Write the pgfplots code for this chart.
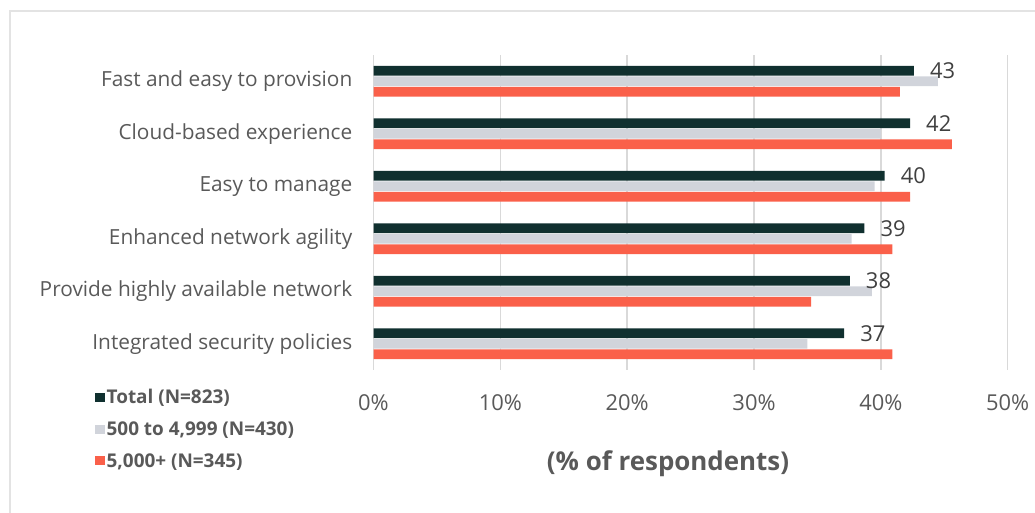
\documentclass[border=0pt]{standalone}
\usepackage{pgfplots}
\pgfplotsset{compat=1.18}
\usepackage{pgfplotstable}
\usepackage{fontspec}
\setmainfont{Open Sans}
\definecolor{cTotal}{HTML}{10302F}
\definecolor{cMid}{HTML}{D1D4DB}
\definecolor{cLarge}{HTML}{FA604A}
\definecolor{cText}{HTML}{595959}
\definecolor{cVal}{HTML}{404040}
\definecolor{cGrid}{HTML}{D9D9D9}
\definecolor{cFrame}{HTML}{E3E3E3}
\pgfplotstableread{
y total mid large label
0 42.6 44.5 41.5 43
1 42.3 40.0 45.6 42
2 40.3 39.5 42.3 40
3 38.7 37.7 40.9 39
4 37.55 39.3 34.5 38
5 37.1 34.2 40.9 37
}\datatable
\begin{document}
\begin{tikzpicture}
\useasboundingbox (0,0) rectangle (1035bp,513bp);
\draw[cFrame, line width=2bp] (10bp,-5bp) -- (10bp,502bp) -- (1045bp,502bp);
\begin{axis}[
  at={(373.5bp,143bp)}, anchor=south west,
  scale only axis, width=634.2bp, height=315bp,
  xbar, bar width=0.19,
  xmin=0, xmax=50, ymin=-0.5, ymax=5.5, y dir=reverse,
  axis line style={draw=none}, tick style={draw=none},
  major tick length=0pt,
  xtick={0,10,20,30,40,50},
  xticklabels={0\%,10\%,20\%,30\%,40\%,50\%},
  xticklabel style={font=\fontsize{22}{26}\selectfont, text=cText, inner sep=0pt, anchor=north, yshift=-24bp},
  xmajorgrids, grid style={cGrid, line width=1.5bp},
  ytick={0,1,2,3,4,5},
  yticklabels={Fast and easy to provision, Cloud-based experience, Easy to manage, Enhanced network agility, Provide highly available network, Integrated security policies},
  yticklabel style={font=\fontsize{20.9}{25}\selectfont, text=cText, inner sep=0pt, anchor=east, xshift=-21bp},
  xlabel={(\% of respondents)},
  xlabel style={font=\bfseries\fontsize{26}{30}\selectfont, text=cText, at={(axis description cs:0.4644,-0.298)}, anchor=center},
  legend style={at={(axis description cs:-0.4392,-0.054)}, anchor=north west, draw=none, fill=none,
    font=\bfseries\fontsize{19}{22}\selectfont, text=cText, inner sep=0pt, row sep=12.5bp,
    nodes={inner sep=2bp}},
  legend cell align=left,
  legend image code/.code={\fill[#1] (0bp,-4.5bp) rectangle (9.5bp,4.5bp);},
  every node near coord/.append style={anchor=west, inner sep=0pt, xshift=16bp, font=\fontsize{22}{26}\selectfont, text=cVal},
]
\addplot[fill=cTotal, draw=none, bar shift=-0.2, nodes near coords, point meta=explicit symbolic]
  table[x=total, y=y, meta=label]{\datatable};
\addplot[fill=cMid, draw=none, bar shift=0]
  table[x=mid, y=y]{\datatable};
\addplot[fill=cLarge, draw=none, bar shift=0.2]
  table[x=large, y=y]{\datatable};
\legend{Total (N=823), 500 to 4{,}999 (N=430), 5{,}000+ (N=345)}
\end{axis}
\end{tikzpicture}
\end{document}
